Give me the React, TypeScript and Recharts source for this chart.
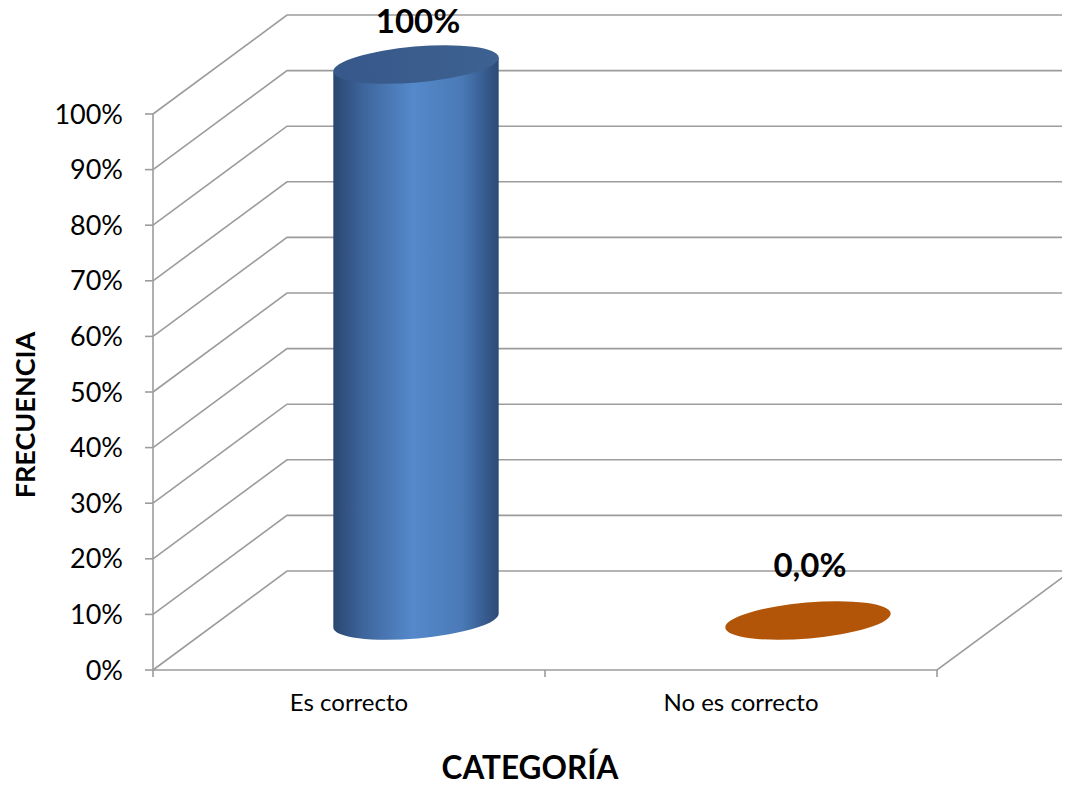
import { BarChart, Bar, XAxis, YAxis, CartesianGrid, LabelList } from 'recharts';

const categories = ['Es correcto', 'No es correcto'];
const values = [1.0, 0.0];
const valueLabels = ['100%', '0,0%'];
const yTicks = [0, 0.1, 0.2, 0.3, 0.4, 0.5, 0.6, 0.7, 0.8, 0.9, 1.0];

const data = categories.map((name, i) => ({ name, value: values[i], label: valueLabels[i] }));

const W = 1070;
const H = 785;
const DX = 134;
const DY = -99;
const GRID = '#9c9c9c';
const FONT = 'Lato, "Open Sans", sans-serif';
const TILT = -5;

const pctFmt = (v: number) => `${Math.round(v * 100)}%`;

function gridLine(props: any) {
  const { x1, x2, y1, index } = props;
  const y = y1;
  const isFloor = Math.abs(y - (H - 115)) < 1;
  return (
    <g key={`g-${index}-${y}`}>
      <polyline
        points={`${x1},${y} ${x1 + DX},${y + DY} ${x2 + DX},${y + DY}`}
        fill="none"
        stroke={GRID}
        strokeWidth={1.6}
      />
      {isFloor && (
        <>
          <polyline
            points={`${x1},${y} ${x2},${y} ${x2 + DX},${y + DY}`}
            fill="none"
            stroke={GRID}
            strokeWidth={1.6}
          />
          {[x1, (x1 + x2) / 2, x2].map((tx) => (
            <line key={tx} x1={tx} x2={tx} y1={y} y2={y + 7} stroke={GRID} strokeWidth={1.6} />
          ))}
        </>
      )}
    </g>
  );
}

function rot(px: number, py: number, deg: number) {
  const a = (deg * Math.PI) / 180;
  return [px * Math.cos(a) - py * Math.sin(a), px * Math.sin(a) + py * Math.cos(a)];
}

function Cylinder(props: any) {
  const { x, y, width, height, index } = props;
  const rx = width / 2;
  const ry = 18;
  const cx = x + rx + DX / 2;
  const topY = y + DY / 2;
  const botY = y + height + DY / 2;
  const [lx, ly] = rot(-rx, 0, TILT);
  const [rX, rY] = rot(rx, 0, TILT);
  if (index === 1 || height < 1) {
    return (
      <ellipse cx={cx} cy={botY} rx={rx} ry={ry} fill="#b25508" transform={`rotate(${TILT} ${cx} ${botY})`} />
    );
  }
  const body = `M ${cx + lx} ${topY + ly} L ${cx + lx} ${botY + ly} A ${rx} ${ry} ${TILT} 0 0 ${cx + rX} ${botY + rY} L ${cx + rX} ${topY + rY} Z`;
  return (
    <g>
      <defs>
        <linearGradient id="cylBody" x1="0" x2="1" y1="0" y2="0">
          <stop offset="0%" stopColor="#2a4670" />
          <stop offset="18%" stopColor="#3e659c" />
          <stop offset="48%" stopColor="#5589cb" />
          <stop offset="78%" stopColor="#4a79b6" />
          <stop offset="100%" stopColor="#2c4a76" />
        </linearGradient>
        <linearGradient id="cylTop" x1="0" x2="1" y1="0" y2="0">
          <stop offset="0%" stopColor="#36588a" />
          <stop offset="100%" stopColor="#3d6191" />
        </linearGradient>
      </defs>
      <path d={body} fill="url(#cylBody)" />
      <ellipse cx={cx} cy={topY} rx={rx} ry={ry} fill="url(#cylTop)" transform={`rotate(${TILT} ${cx} ${topY})`} />
    </g>
  );
}

function ValueLabel(props: any) {
  const { x, y, width, height, index } = props;
  const cx = x + width / 2 + DX / 2;
  const flat = height < 1;
  const top = y + height + DY / 2 - (flat ? 0 : height);
  return (
    <text x={cx + 2} y={top - (flat ? 44 : 32)} textAnchor="middle" fontFamily={FONT} fontWeight="bold" fontSize={33} fill="#000">
      {valueLabels[index]}
    </text>
  );
}

export default function App() {
  return (
    <div style={{ marginLeft: -8, marginTop: -8, width: W, height: H, background: '#fff', fontFamily: FONT }}>
      <BarChart width={W} height={H} data={data} margin={{ top: 114, right: 133, bottom: 0, left: 13 }} barSize={166}>
        <CartesianGrid vertical={false} horizontal={gridLine} />
        <XAxis
          dataKey="name"
          height={115}
          axisLine={false}
          tickLine={false}
          tickSize={0}
          tickMargin={24}
          tick={{ fontSize: 24, fill: '#000', fontFamily: FONT }}
          label={{
            value: 'CATEGORÍA',
            content: (p: any) => {
              const vb = p.viewBox;
              return (
                <text x={vb.x + vb.width / 2 - 15} y={vb.y + 109} textAnchor="middle" fontFamily={FONT} fontWeight="bold" fontSize={31.5} fill="#000">
                  CATEGORÍA
                </text>
              );
            },
          }}
        />
        <YAxis
          width={140}
          domain={[0, 1]}
          ticks={yTicks}
          tickFormatter={pctFmt}
          axisLine={{ stroke: GRID, strokeWidth: 1.6 }}
          tickLine={{ stroke: GRID, strokeWidth: 1.6 }}
          tickSize={8}
          tickMargin={22}
          tick={{ fontSize: 27, fill: '#000', fontFamily: FONT }}
          label={{
            value: 'FRECUENCIA',
            content: (p: any) => {
              const vb = p.viewBox;
              const cy = vb.y + vb.height / 2 + 23;
              const cx = vb.x + 22;
              return (
                <text x={cx} y={cy} transform={`rotate(-90 ${cx} ${cy})`} textAnchor="middle" fontFamily={FONT} fontWeight="bold" fontSize={27} fill="#000">
                  FRECUENCIA
                </text>
              );
            },
          }}
        />
        <Bar dataKey="value" isAnimationActive={false} shape={<Cylinder />}>
          <LabelList dataKey="label" content={<ValueLabel />} />
        </Bar>
      </BarChart>
    </div>
  );
}
